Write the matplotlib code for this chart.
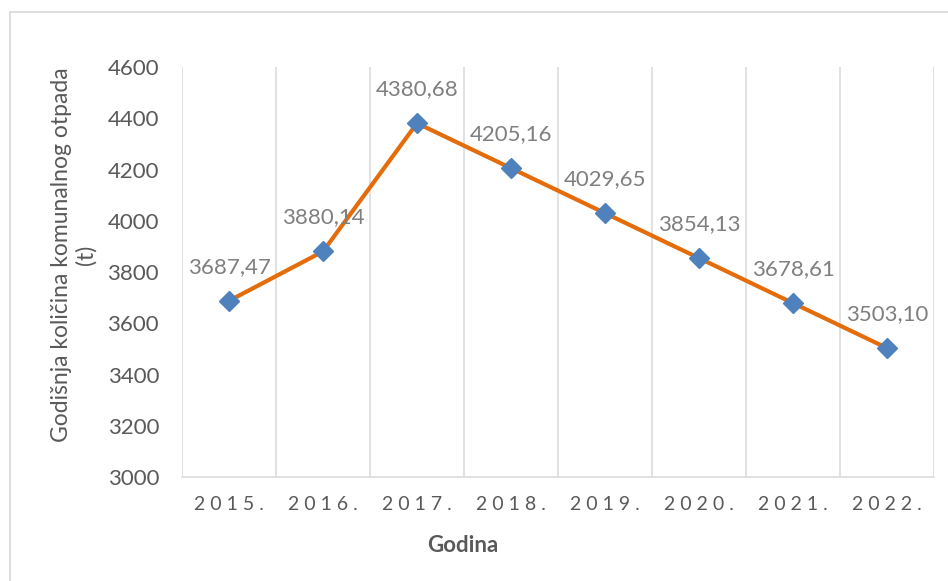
import matplotlib.pyplot as plt
from matplotlib.lines import Line2D

# Data
years = ['2015.', '2016.', '2017.', '2018.', '2019.', '2020.', '2021.', '2022.']
waste = [3687.47, 3880.14, 4380.68, 4205.16, 4029.65, 3854.13, 3678.61, 3503.10]
y_ticks = [3000, 3200, 3400, 3600, 3800, 4000, 4200, 4400, 4600]

plt.rcParams['font.family'] = ['Lato', 'DejaVu Sans']

W, H = 948, 581
fig = plt.figure(figsize=(W / 100, H / 100), dpi=100)
ax = fig.add_axes([182 / W, (H - 477) / H, (934 - 182) / W, (477 - 67) / H])

x = list(range(len(years)))
ax.plot(x, waste, color='#E46C0A', linewidth=3, marker='D', markersize=10,
        markerfacecolor='#4F81BD', markeredgecolor='#4F81BD', zorder=3, clip_on=False)

# Data labels above points
for xi, v in zip(x, waste):
    ax.annotate(f'{v:.2f}'.replace('.', ','), (xi, v), xytext=(0, 24.5),
                textcoords='offset points', ha='center', va='center',
                fontsize=16, color='#7F7F7F')

# Axes limits and ticks
ax.set_xlim(-0.5, len(years) - 0.5)
ax.set_ylim(3000, 4600)
ax.set_yticks(y_ticks)
ax.set_yticklabels([str(t) for t in y_ticks])
ax.set_xticks(x)
ax.set_xticklabels([' '.join(y) for y in years])
ax.set_xticks([i - 0.5 for i in range(len(years) + 1)], minor=True)
ax.tick_params(axis='both', which='both', length=0)
ax.tick_params(axis='y', labelsize=16, labelcolor='#595959', pad=16.5)
ax.tick_params(axis='x', labelsize=14, labelcolor='#595959', pad=13.5)

# Vertical gridlines between categories
ax.grid(which='minor', axis='x', color='#D9D9D9', linewidth=1.1)
ax.grid(which='major', visible=False)
for s in ['top', 'right', 'left']:
    ax.spines[s].set_visible(False)
ax.spines['bottom'].set_color('#D9D9D9')
ax.spines['bottom'].set_linewidth(1.1)

# Axis titles
fig.text(74 / W, 1 - 255 / H, 'Godišnja količina komunalnog otpada\n(t)',
         rotation=90, ha='center', va='center', fontsize=16.5, color='#595959',
         linespacing=1.15, multialignment='center')
fig.text(463 / W, 1 - 546 / H, 'Godina', ha='center', va='center',
         fontsize=16, fontweight='bold', color='#595959')

# Chart border (partly outside the image)
fig.add_artist(Line2D([9.5 / W, 9.5 / W], [0, 1 - 11.5 / H], color='#D9D9D9', linewidth=1.2))
fig.add_artist(Line2D([9.5 / W, 1], [1 - 11.5 / H, 1 - 11.5 / H], color='#D9D9D9', linewidth=1.2))

fig.savefig('out.png', dpi=100)
